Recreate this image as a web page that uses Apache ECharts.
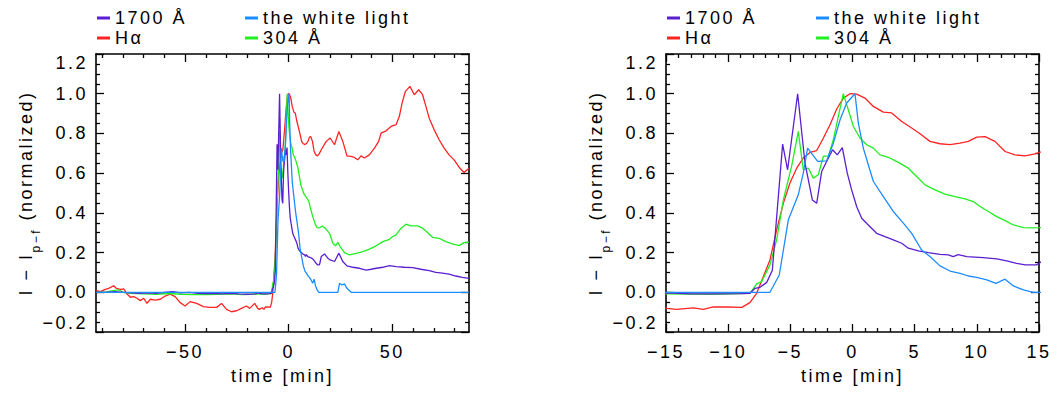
<!DOCTYPE html>
<html>
<head>
<meta charset="utf-8">
<script src="https://cdn.jsdelivr.net/npm/echarts@6/dist/echarts.min.js"></script>
<style>
  html, body { margin: 0; padding: 0; background: #fff; }
  /* wide IDL-style lettering, picked up by the svg text */
  #chart { width: 1064px; height: 394px; letter-spacing: 2.5px; }
</style>
</head>
<body>
<div id="chart"></div>
<script>
// 1700 A (UV continuum)
const uvTime = [-92.8, -88, -84, -80, -76, -72, -68, -64, -60, -56, -52, -48, -44, -40, -36, -32, -28, -24, -20, -16,
  -14.95, -13, -11, -9, -8.24, -7.84, -7.44, -6.9, -6.45, -5.62, -5.22, -4.41, -3.82, -3.23, -2.88, -2.48, -2.08, -1.6, -1.22, -0.82,
  -0.42, -0.07, 0.34, 0.74, 1.19, 1.94, 2.61, 3.28, 3.96, 4.49, 5.3, 6.1, 7.04, 7.71, 8.1, 8.5, 9.2, 10.5, 11.6, 12.4,
  13.2, 13.9, 14.8, 15.1,
  15.7, 17.3, 18.9, 20.0, 22.1, 24.2, 26.1, 28.1, 31, 34.1, 37.4, 39.8, 42.2, 45.4, 48.6, 51.8, 55.8, 59.8, 63.8, 67.8,
  71, 74.2, 77.4, 80.6, 83.8, 87];
const uvVal = [0.0, 0.0, 0.003, 0.0, -0.003, -0.005, -0.003, -0.005, 0.0, 0.003, -0.003, 0.0, -0.005, -0.007, -0.005, -0.008, -0.005, -0.008, -0.01, -0.008,
  -0.003, -0.008, -0.008, -0.007, -0.005, 0.02, 0.025, 0.05, 0.11, 0.746, 0.617, 1.0, 0.65, 0.465, 0.448, 0.608, 0.659, 0.718, 0.692, 0.729,
  0.6, 0.516, 0.431, 0.373, 0.344, 0.297, 0.28, 0.264, 0.247, 0.222, 0.208, 0.2, 0.191, 0.188, 0.18, 0.19, 0.18, 0.175, 0.168, 0.158,
  0.146, 0.138, 0.138, 0.15,
  0.18, 0.193, 0.171, 0.163, 0.155, 0.197, 0.155, 0.133, 0.126, 0.121, 0.112, 0.116, 0.121, 0.126, 0.134, 0.129, 0.126, 0.124, 0.116, 0.109,
  0.1, 0.096, 0.091, 0.082, 0.075, 0.07];

// H-alpha
const haTime = [-92.8, -90.9, -88.5, -86.9, -84.5, -83.2, -81.3, -79.6, -78, -76.4, -74.8, -73.2, -71.6, -70, -68.4, -66.8, -64.4, -62, -59.6, -57.2,
  -54.8, -52.4, -50, -47.6, -44.4, -41.2, -38, -34.8, -32.4, -30, -27.6, -25.2, -22.8, -20.4, -18.8, -16.4,
  -14.95, -14.15, -12.8, -12.0, -11.2, -10.1, -8.9, -8.25, -7.71, -7.17, -6.64, -6.1, -5.56, -5.03, -4.49, -3.96, -3.42, -2.88, -2.35, -1.81,
  -1.27, -0.74, -0.2, 0.34, 1.0, 1.68, 2.48, 3.15, 3.96, 4.76, 5.43, 6.23, 7.04, 7.84, 8.65, 9.32, 9.99, 10.66, 11.46, 12.27,
  13.07, 13.88, 14.68,
  15.7, 18.1, 20.0, 22.1, 24.2, 26.1, 28.1, 30.1, 31.7, 33.3, 34.9, 36.5, 38.9, 41.4, 43.4, 44.6, 47, 49.4, 51.8, 53.4,
  54.7, 56.3, 58.5, 60.6, 62.7, 64.6, 66.2, 67.8, 70.2, 72.6, 75, 77.4, 79.8, 82.2, 84.6, 87];
const haVal = [0.008, 0.003, 0.015, 0.02, 0.033, 0.02, 0.015, 0.017, -0.009, -0.025, -0.022, -0.03, -0.042, -0.03, -0.056, -0.035, -0.039, -0.035, -0.019, -0.009,
  -0.022, -0.052, -0.069, -0.047, -0.056, -0.072, -0.076, -0.076, -0.056, -0.086, -0.098, -0.093, -0.081, -0.069, -0.081, -0.056,
  -0.081, -0.086, -0.078, -0.086, -0.073, -0.074, -0.076, -0.052, -0.005, 0.079, 0.163, 0.314, 0.449, 0.55, 0.625, 0.676, 0.704, 0.714, 0.776, 0.844,
  0.923, 0.978, 1.0, 0.998, 0.978, 0.936, 0.907, 0.903, 0.86, 0.827, 0.798, 0.76, 0.748, 0.744, 0.751, 0.76, 0.781, 0.784, 0.76, 0.709,
  0.692, 0.687, 0.697,
  0.718, 0.76, 0.777, 0.743, 0.81, 0.76, 0.687, 0.684, 0.679, 0.667, 0.687, 0.676, 0.692, 0.726, 0.76, 0.802, 0.813, 0.835, 0.844, 0.886,
  0.953, 1.012, 1.037, 0.995, 1.02, 0.995, 0.936, 0.877, 0.818, 0.768, 0.726, 0.692, 0.667, 0.63, 0.603, 0.625];

// white light
const wlTime = [-92.8, -6.64, -5.89, -5.16, -4.36, -3.96, -3.61, -3.2, -2.8, -2.08, -1.54, -1.0, -0.47, 0.2, 0.47, 0.87, 1.27, 1.68, 2.48, 3.28,
  4.09, 4.76, 5.56, 6.23, 7.04, 7.84, 8.65, 9.32, 9.99, 10.8, 11.54, 12.27, 12.94, 13.75, 14.55, 23.7, 24.5, 25.8, 26.9, 28.1,
  30.1, 87];
const wlVal = [0, 0, 0.087, 0.365, 0.491, 0.6, 0.726, 0.692, 0.659, 0.662, 0.751, 0.869, 0.953, 1.0, 0.852, 0.726, 0.642, 0.558, 0.482, 0.407,
  0.348, 0.297, 0.213, 0.18, 0.133, 0.107, 0.095, 0.082, 0.075, 0.062, 0.045, 0.066, 0.032, 0.012, 0, 0, 0.045, 0.037, 0.042, 0.02,
  0, 0];

// 304 A
const euvTime = [-92.8, -88, -84, -82, -80, -76, -70, -64, -58, -52, -46, -40, -34, -28, -22, -18,
  -14.95, -11.5, -8.25, -7.71, -7.3, -6.64, -6.1, -5.56, -4.9, -4.36, -3.96, -3.55, -3.15, -2.75, -2.35, -1.94, -1.54, -1.14, -0.74, -0.34,
  0.07, 0.6, 1.14, 1.68, 2.21, 2.88, 3.69, 4.49, 5.16, 5.83, 6.64, 7.44, 8.25, 9.05, 9.72, 10.26, 10.93, 11.6, 12.27, 12.94,
  13.75, 14.55, 15.09,
  16.2, 18.1, 19.7, 21.3, 22.6, 23.7, 24.8, 26.9, 29.3, 32.5, 35.8, 38.9, 42.2, 45.4, 48.6, 50.2, 51.8, 54.2, 56.6, 59,
  62.2, 64.6, 67, 69.4, 72.6, 75.8, 79, 82.2, 84.6, 87];
const euvVal = [0.0, 0.002, 0.01, 0.012, 0.0, -0.005, -0.008, -0.01, -0.006, -0.01, -0.012, -0.012, -0.01, -0.008, -0.012, -0.01,
  -0.008, -0.01, -0.005, 0.042, 0.054, 0.138, 0.264, 0.466, 0.634, 0.81, 0.617, 0.625, 0.575, 0.592, 0.684, 0.687, 0.768, 0.886, 1.0, 0.919,
  0.835, 0.777, 0.743, 0.726, 0.692, 0.68, 0.654, 0.625, 0.583, 0.541, 0.516, 0.494, 0.482, 0.47, 0.457, 0.432, 0.407, 0.381, 0.361, 0.339,
  0.326, 0.324, 0.326,
  0.334, 0.317, 0.297, 0.247, 0.234, 0.252, 0.23, 0.2, 0.188, 0.196, 0.205, 0.217, 0.234, 0.255, 0.267, 0.281, 0.289, 0.323, 0.343, 0.334,
  0.334, 0.323, 0.301, 0.277, 0.272, 0.255, 0.244, 0.235, 0.25, 0.252];

// axis ranges and tick marks
const wideRange = [-93, 87];
const wideTicks = [-50, 0, 50];
const wideMinor = [-90, -80, -70, -60, -40, -30, -20, -10, 10, 20, 30, 40, 60, 70, 80];
const zoomRange = [-15, 15];
const zoomTicks = [-15, -10, -5, 0, 5, 10, 15];
const zoomMinor = [-14, -13, -12, -11, -9, -8, -7, -6, -4, -3, -2, -1, 1, 2, 3, 4, 6, 7, 8, 9, 11, 12, 13, 14];

const FONT = 'Liberation Sans';
const SIZE = 18;
const GAP = 2.5; // same as the css letter-spacing
const axisStroke = { color: '#000', width: 1.6 };
const tickStroke = { color: '#000', width: 1.3 };
const minus = (s) => String(s).replace('-', '\u2212');
// centred rich tokens: spread the extra letter spacing on both sides
const spread = (n) => (n * GAP) / 2;

const curves = [
  { name: 'H\u03b1', color: '#ff2424', t: haTime, v: haVal },
  { name: '304 \u00c5', color: '#22ee22', t: euvTime, v: euvVal },
  { name: '1700 \u00c5', color: '#5a1fd0', t: uvTime, v: uvVal },
  { name: 'the white light', color: '#1c8cff', t: wlTime, v: wlVal },
];

function timeAxes(gridIndex, range, major, minor) {
  const base = {
    type: 'value', gridIndex, min: range[0], max: range[1],
    splitLine: { show: false }, axisLabel: { show: false },
    axisLine: { show: false, onZero: false },
  };
  return [
    {
      ...base, position: 'bottom',
      axisLine: { show: true, onZero: false, lineStyle: axisStroke },
      axisTick: { inside: true, length: 8, customValues: major, lineStyle: tickStroke },
      axisLabel: {
        show: true, customValues: major, margin: 11, formatter: minus,
        fontFamily: FONT, fontSize: SIZE, color: '#000',
      },
      name: 'time [min]', nameLocation: 'middle', nameGap: 35,
      nameTextStyle: { fontFamily: FONT, fontSize: SIZE, color: '#000' },
    },
    { ...base, position: 'bottom', axisTick: { inside: true, length: 4, customValues: minor, lineStyle: tickStroke } },
    {
      ...base, position: 'top',
      axisLine: { show: true, onZero: false, lineStyle: axisStroke },
      axisTick: { inside: true, length: 8, customValues: major, lineStyle: tickStroke },
    },
    { ...base, position: 'top', axisTick: { inside: true, length: 4, customValues: minor, lineStyle: tickStroke } },
  ];
}

function valueAxes(gridIndex) {
  const base = {
    type: 'value', gridIndex, min: -0.2, max: 1.2, interval: 0.2,
    splitLine: { show: false },
    axisLine: { show: true, onZero: false, lineStyle: axisStroke },
    axisTick: { inside: true, length: 8, lineStyle: tickStroke },
    minorTick: { show: true, splitNumber: 4, length: 4, lineStyle: tickStroke },
  };
  return [
    {
      ...base, position: 'left',
      axisLabel: {
        margin: 8, fontFamily: FONT, fontSize: SIZE, color: '#000',
        verticalAlignMinLabel: 'bottom', verticalAlignMaxLabel: 'top',
        formatter: (v) => minus((Math.abs(v) < 1e-9 ? 0 : v).toFixed(1)),
      },
      name: '{a|I \u2212 I}{s|p\u2212f}{c| (normalized)}',
      nameLocation: 'middle', nameGap: 60,
      nameTextStyle: {
        color: '#000',
        rich: {
          a: { fontFamily: FONT, fontSize: SIZE, lineHeight: 20, padding: [0, spread(5), 0, spread(5)] },
          s: { fontFamily: FONT, fontSize: 12, lineHeight: 12, padding: [14, spread(3), 0, spread(3)], verticalAlign: 'top' },
          c: { fontFamily: FONT, fontSize: SIZE, lineHeight: 20, padding: [0, spread(13), 0, spread(13)] },
        },
      },
    },
    { ...base, position: 'right', axisLabel: { show: false } },
  ];
}

function legendColumn(left, names) {
  return {
    left, top: 8, orient: 'vertical', itemGap: 0, padding: 0,
    icon: 'rect', itemWidth: 13, itemHeight: 3,
    data: names, selectedMode: false,
    textStyle: { fontFamily: FONT, fontSize: SIZE, color: '#000', lineHeight: 20 },
  };
}

const series = [];
[0, 1].forEach((p) => {
  curves.forEach((c) => {
    series.push({
      type: 'line', name: c.name, xAxisIndex: 4 * p, yAxisIndex: 2 * p,
      data: c.t.map((t, i) => [t, c.v[i]]),
      showSymbol: false, clip: true, color: c.color,
      lineStyle: { color: c.color, width: 1.3 },
    });
  });
});

const chart = echarts.init(document.getElementById('chart'), null, { renderer: 'svg' });
chart.setOption({
  animation: false,
  backgroundColor: '#fff',
  grid: [
    { left: 96, top: 54, width: 373, height: 278 },
    { left: 666, top: 54, width: 373, height: 278 },
  ],
  legend: [
    legendColumn(97, ['1700 \u00c5', 'H\u03b1']),
    legendColumn(245, ['the white light', '304 \u00c5']),
    legendColumn(667, ['1700 \u00c5', 'H\u03b1']),
    legendColumn(816, ['the white light', '304 \u00c5']),
  ],
  xAxis: [
    ...timeAxes(0, wideRange, wideTicks, wideMinor),
    ...timeAxes(1, zoomRange, zoomTicks, zoomMinor),
  ],
  yAxis: [...valueAxes(0), ...valueAxes(1)],
  series,
});
</script>
</body>
</html>
